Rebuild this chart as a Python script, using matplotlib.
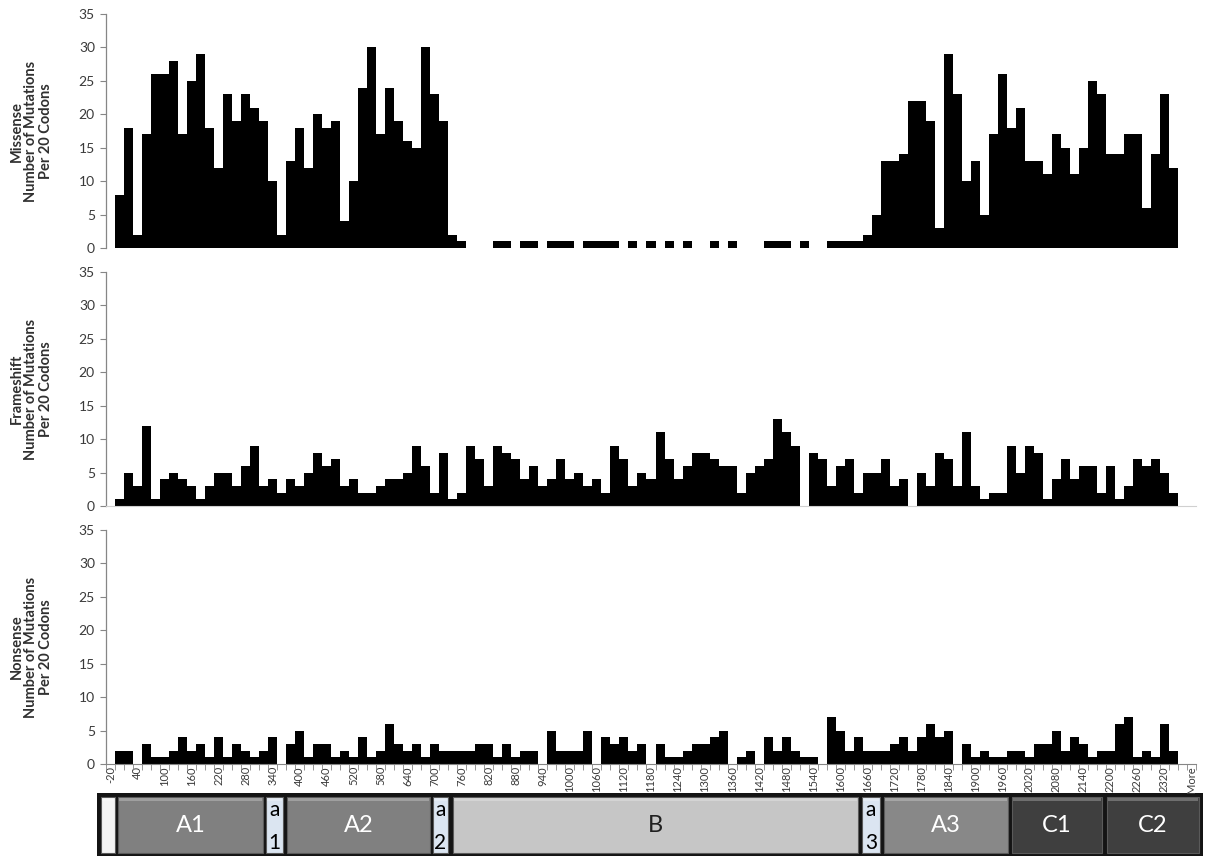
import numpy as np
import matplotlib
matplotlib.use("Agg")
from matplotlib import pyplot as plt
from matplotlib.patches import Rectangle

plt.rcParams['font.family'] = ['Lato', 'DejaVu Sans']

# histogram bins (upper codon bound of each 20-codon window), Excel style
bins = [str(v) for v in range(-20, 2361, 20)] + ["More"]

missense = [0,
            8, 18, 2, 17, 26, 26, 28, 17, 25, 29, 18, 12, 23, 19, 23, 21, 19, 10, 2, 13,
            18, 12, 20, 18, 19, 4, 10, 24, 30, 17, 24, 19, 16, 15, 30, 23, 19, 2, 1,
            0, 0, 0,
            1, 1, 0, 1, 1, 0, 1, 1, 1, 0, 1, 1, 1, 1, 0, 1, 0, 1,
            0, 1, 0, 1, 0, 0, 1, 0, 1, 0, 0, 0, 1, 1, 1, 0, 1, 0, 0,
            1, 1, 1, 1, 2, 5, 13, 13, 14, 22, 22, 19, 3, 29, 23, 10, 13, 5, 17, 26,
            18, 21, 13, 13, 11, 17, 15, 11, 15, 25, 23, 14, 14, 17, 17, 6, 14, 23, 12,
            0, 0]

frameshift = [0,
              1, 5, 3, 12, 1, 4, 5, 4, 3, 1, 3, 5, 5, 3, 6, 9, 3, 4, 2, 4,
              3, 5, 8, 6, 7, 3, 4, 2, 2, 3, 4, 4, 5, 9, 6, 2, 8, 1, 2, 9,
              7, 3, 9,
              8, 7, 4, 6, 3, 4, 7, 4, 5, 3, 4, 2, 9, 7, 3, 5, 4, 11, 7, 4,
              6, 8, 8, 7, 6, 6, 2, 5, 6, 7, 13, 11, 9, 0, 8, 7, 3, 6, 7, 2, 5, 5,
              7, 3, 4, 0, 5, 3, 8, 7, 3, 11, 3, 1, 2, 2, 9, 5, 9, 8, 1, 4,
              7, 4, 6, 6, 2, 6, 1, 3, 7, 6, 7, 5, 2,
              0, 0]

nonsense = [0,
            2, 2, 0, 3, 1, 1, 2, 4, 2, 3,
            1, 4, 1, 3, 2, 1, 2, 4, 0, 3,
            5, 1, 3, 3, 1, 2, 1, 4, 1, 2,
            6, 3, 2, 3, 1, 3, 2, 2, 2, 2,
            3, 3, 1, 3, 1, 2, 2, 0, 5, 2,
            2, 2, 5, 0, 4, 3, 4, 2, 3, 0,
            3, 1, 1, 2, 3, 3, 4, 5, 0, 1,
            2, 0, 4, 2, 4, 2, 1, 1, 0, 7,
            5, 2, 4, 2, 2, 2, 3, 4, 2, 4,
            6, 4, 5, 0, 3, 1, 2, 1, 1, 2,
            2, 1, 3, 3, 5, 2, 4, 3, 1, 2,
            2, 6, 7, 1, 2, 1, 6, 2, 0, 0]

series = [missense, frameshift, nonsense]
panel_names = ["Missense", "Frameshift", "Nonsense"]

# factor VIII domain schematic under the axis
dom_names = ["", "A1", "a\n1", "A2", "a\n2", "B", "a\n3", "A3", "C1", "C2"]
dom_colors = ["#f4f4f4", "#808080", "#dbe5f1", "#808080", "#dbe5f1", "#c6c6c6",
              "#dbe5f1", "#888888", "#3f3f3f", "#3f3f3f"]
dom_text = ["black", "white", "black", "white", "black", "#202020",
            "black", "white", "white", "white"]
dom_left = [101, 118, 266, 287, 433, 453, 862, 884, 1012, 1107]
dom_right = [115, 263, 283, 430, 448, 858, 880, 1008, 1102, 1199]

W, H = 1212, 856
fig = plt.figure(figsize=(W / 100, H / 100), dpi=100)

# domain bar (drawn first, underneath everything else)
sk = fig.add_axes([0, 0, 1, 1], facecolor="none")
sk.set_zorder(-1)
sk.set_xlim(0, W)
sk.set_ylim(H, 0)
sk.axis("off")
sk.add_patch(Rectangle((97, 793), 1203 - 97, 63, facecolor="#141414", edgecolor="none"))
for i, name in enumerate(dom_names):
    l, r = dom_left[i], dom_right[i]
    sk.add_patch(Rectangle((l, 797), r - l, 56, facecolor=dom_colors[i],
                           edgecolor="#5a5a5a", linewidth=0.8))
    sk.add_patch(Rectangle((l + 1, 798), r - l - 2, 3, facecolor="white",
                           alpha=0.25, edgecolor="none"))
    if "\n" in name:
        top_txt, bot_txt = name.split("\n")
        sk.text((l + r) / 2, 810, top_txt, ha="center", va="center",
                fontsize=15, color=dom_text[i])
        sk.text((l + r) / 2, 843, bot_txt, ha="center", va="center",
                fontsize=15, color=dom_text[i])
    elif name:
        sk.text((l + r) / 2, 825, name, ha="center", va="center",
                fontsize=17, color=dom_text[i])

x = np.arange(len(bins))
ax_left, ax_right = 106, 1196
tops = [14, 272, 530]
bottoms = [248, 506, 764]
axis_col = "#868686"
text_col = "#3a3a3a"

for k in range(3):
    ax = fig.add_axes([ax_left / W, 1 - bottoms[k] / H,
                       (ax_right - ax_left) / W, (bottoms[k] - tops[k]) / H])
    ax.bar(x, series[k], width=1.0, color="black", linewidth=0, antialiased=False)
    ax.set_xlim(-0.5, len(bins) - 0.5)
    ax.set_ylim(0, 35)
    ax.set_yticks(range(0, 36, 5))
    ax.tick_params(axis="y", direction="out", length=4, color=axis_col,
                   labelcolor=text_col, labelsize=10, pad=4)
    for s in ["top", "right"]:
        ax.spines[s].set_visible(False)
    ax.spines["left"].set_color(axis_col)
    ax.spines["left"].set_linewidth(0.9)
    ax.spines["bottom"].set_color("#d0d0d0")
    ax.spines["bottom"].set_linewidth(0.8)
    if k < 2:
        ax.set_xticks([])
        if k == 0:
            ax.spines["bottom"].set_visible(False)
    else:
        ax.spines["bottom"].set_color(axis_col)
        ax.set_xticks(x[::3])
        ax.set_xticklabels(bins[::3], rotation=90)
        ax.set_xticks(np.arange(-0.5, len(bins), 1.0), minor=True)
        ax.tick_params(axis="x", which="major", length=0, pad=1.5,
                       labelcolor=text_col, labelsize=8)
        ax.tick_params(axis="x", which="minor", direction="out", length=4,
                       color=axis_col)
    fig.text(31 / W, 1 - (tops[k] + bottoms[k]) / 2 / H,
             panel_names[k] + "\nNumber of Mutations\nPer 20 Codons",
             rotation=90, ha="center", va="center", multialignment="center",
             fontsize=10.5, fontweight="bold", color="#303030", linespacing=1.05)

fig.savefig("out.png", dpi=100)
